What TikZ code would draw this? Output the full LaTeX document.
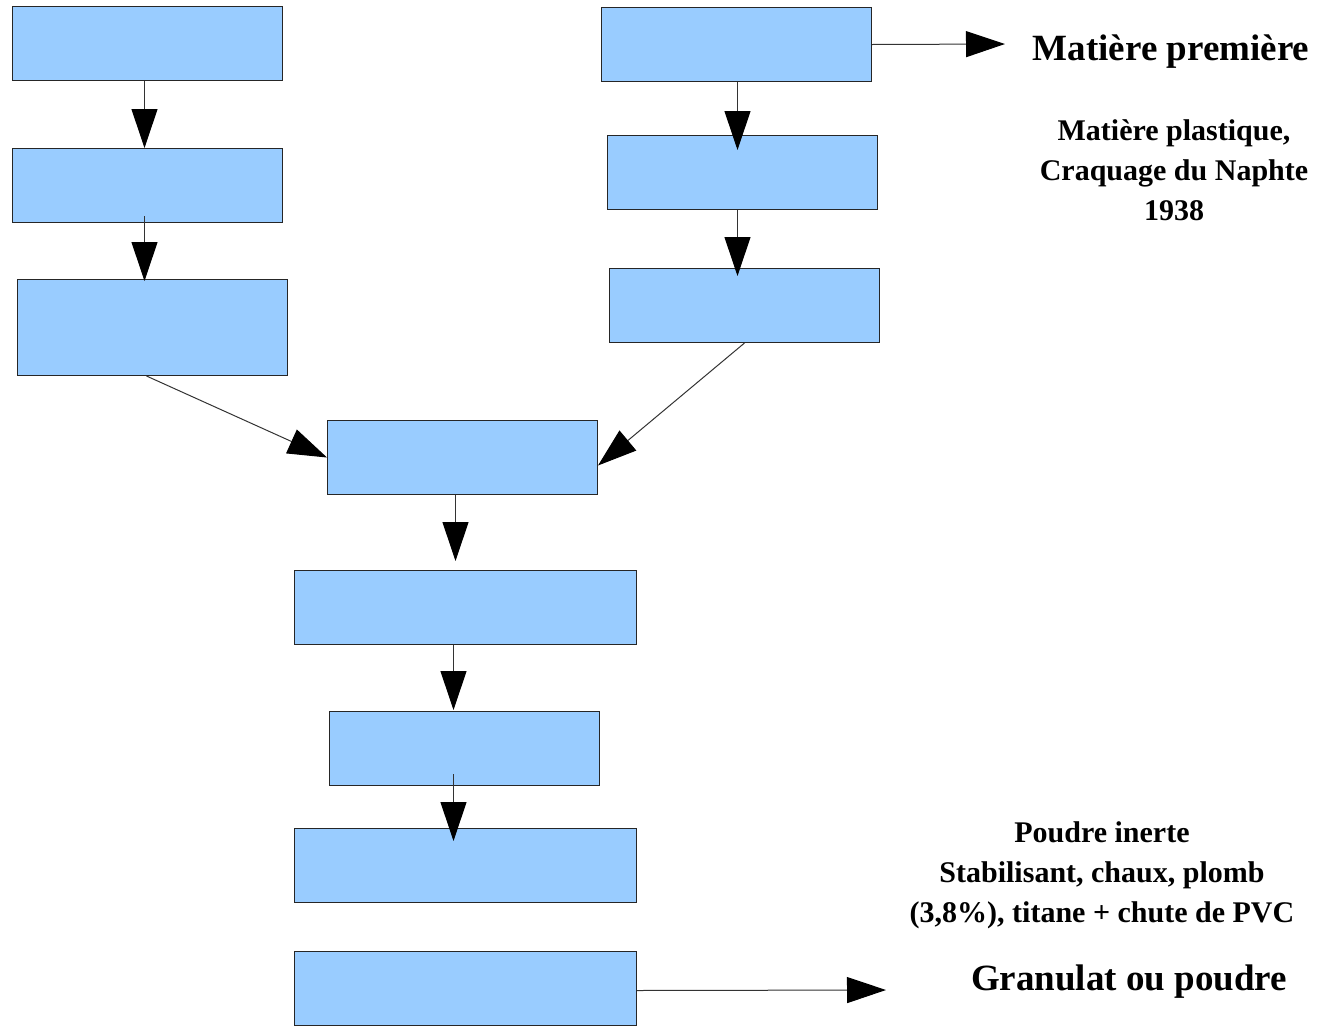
\documentclass[tikz,border=0pt]{standalone}
\usepackage{fontspec}
\setmainfont{Liberation Serif}
\usetikzlibrary{arrows.meta}
\definecolor{boxblue}{HTML}{99CCFF}
\begin{document}
\begin{tikzpicture}[x=1pt,y=-1pt,
  box/.style={draw=black!85, line width=1pt, fill=boxblue, inner sep=0pt, anchor=north west, minimum height=74pt, minimum width=270pt},
  wide/.style={box, minimum width=342pt},
  flow/.style={draw=black!80, line width=1pt, -{Triangle[length=39pt,width=26pt,color=black]}},
  biglbl/.style={font=\bfseries\fontsize{37}{42}\selectfont, align=center, inner sep=0pt},
  lbl/.style={font=\bfseries\fontsize{30}{40}\selectfont, align=center, inner sep=0pt}]
\useasboundingbox (0,0) rectangle (1326,1034);
% left column
\node[box] (b1) at (12,6) {};
\node[box] (b2) at (12,148) {};
\node[box, minimum height=96pt] (b3) at (17,279) {};
% right column
\node[box] (r1) at (601,7) {};
\node[box] (r2) at (607,135) {};
\node[box] (r3) at (609,268) {};
% central column
\node[box] (c1) at (327,420) {};
\node[wide] (c2) at (294,570) {};
\node[box] (c3) at (329,711) {};
\node[wide] (c4) at (294,828) {};
\node[wide] (c5) at (294,951) {};
% labels
\node[biglbl] (t1) at (1171,52) {Matière première};
\node[lbl] (t2) at (1174,170) {Matière plastique,\\Craquage du Naphte\\1938};
\node[lbl] (t3) at (1102,875) {Poudre inerte\\Stabilisant, chaux, plomb\\(3,8\%), titane + chute de PVC};
\node[biglbl] (t4) at (1129,982) {Granulat ou poudre};
\coordinate (e1) at (1005,44);
\coordinate (e2) at (886,990);
% connectors
\draw[flow] ([xshift=-3pt]b1.south) -- ([xshift=-3pt]b2.north);
\draw[flow] ([xshift=-3pt,yshift=7pt]b2.south) -- ([xshift=-8pt,yshift=-2pt]b3.north);
\draw[flow] ([xshift=1pt]r1.south) -- ([xshift=-5pt,yshift=-15pt]r2.north);
\draw[flow] ([xshift=-5pt]r2.south) -- ([xshift=-7pt,yshift=-8pt]r3.north);
\draw[flow] (r1.east) -- (e1);
\draw[flow] ([xshift=-6pt]b3.south) -- (c1.west);
\draw[flow] (r3.south) -- ([yshift=-8pt]c1.east);
\draw[flow] ([xshift=-7pt]c1.south) -- ([xshift=-10pt,yshift=9pt]c2.north);
\draw[flow] ([xshift=-12pt]c2.south) -- ([xshift=-11pt,yshift=1pt]c3.north);
\draw[flow] ([xshift=-11pt,yshift=12pt]c3.south) -- ([xshift=-12pt,yshift=-13pt]c4.north);
\draw[flow] ([yshift=-2pt]c5.east) -- (e2);
\end{tikzpicture}
\end{document}
